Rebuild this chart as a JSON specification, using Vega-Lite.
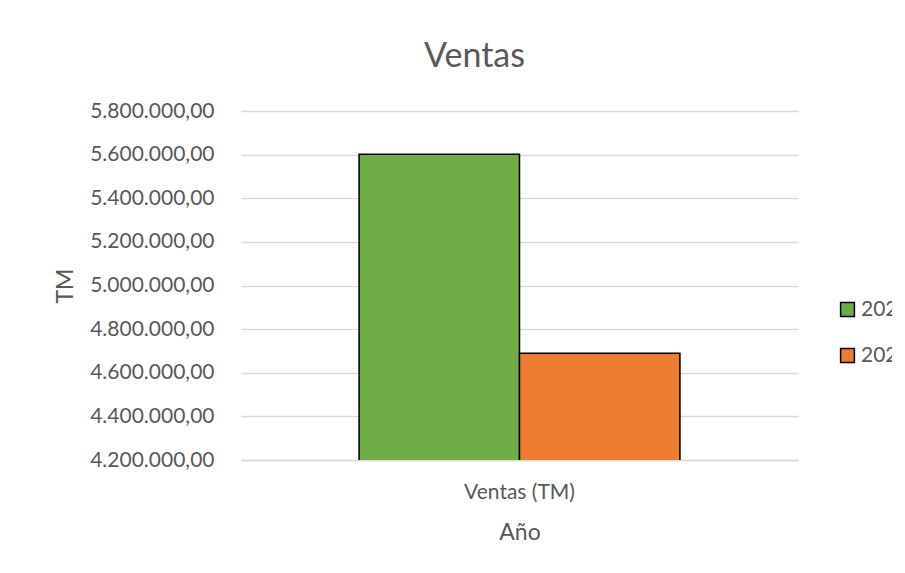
{
  "$schema": "https://vega.github.io/schema/vega-lite/v6.json",
  "autosize": {"type": "none"},
  "padding": {"left": 241, "top": 111, "right": 94, "bottom": 113},
  "width": 557,
  "height": 349,
  "background": "white",
  "data": {
    "values": [
      {"categoria": "Ventas (TM)", "anio": "2022", "ventas": 5602000},
      {"categoria": "Ventas (TM)", "anio": "2023", "ventas": 4689000}
    ]
  },
  "title": {
    "text": "Ventas",
    "anchor": "middle",
    "frame": "group",
    "dx": -45,
    "offset": 26,
    "fontSize": 34,
    "fontWeight": "normal",
    "color": "#595959",
    "font": "Lato"
  },
  "mark": {"type": "bar", "stroke": "black", "strokeWidth": 1.5, "clip": true},
  "encoding": {
    "x": {
      "field": "categoria",
      "type": "nominal",
      "title": "Año",
      "scale": {"paddingInner": 0, "paddingOuter": 0.368},
      "axis": {
        "labelAngle": 0,
        "ticks": false,
        "domainColor": "#D9D9D9",
        "domainWidth": 1.5,
        "labelPadding": 21,
        "titlePadding": 19
      }
    },
    "xOffset": {"field": "anio", "type": "nominal", "scale": {"paddingInner": 0, "paddingOuter": 0}},
    "y": {
      "field": "ventas",
      "type": "quantitative",
      "title": "TM",
      "scale": {"domain": [4200000, 5800000], "zero": false, "nice": false},
      "axis": {
        "format": ",.2f",
        "values": [4200000, 4400000, 4600000, 4800000, 5000000, 5200000, 5400000, 5600000, 5800000],
        "ticks": false,
        "domain": false,
        "labelPadding": 27,
        "titlePadding": 12,
        "gridColor": "#D9D9D9",
        "gridWidth": 1.5
      }
    },
    "color": {
      "field": "anio",
      "type": "nominal",
      "title": null,
      "scale": {"domain": ["2022", "2023"], "range": ["#70AD47", "#ED7D31"]},
      "legend": {
        "orient": "none",
        "legendX": 596,
        "legendY": 188,
        "symbolType": "square",
        "symbolSize": 190,
        "symbolStrokeColor": "black",
        "symbolStrokeWidth": 1.5,
        "symbolOpacity": 1,
        "rowPadding": 24,
        "labelOffset": 3
      }
    }
  },
  "config": {
    "locale": {"number": {"decimal": ",", "thousands": ".", "grouping": [3], "currency": ["", " €"]}},
    "font": "Lato",
    "view": {"stroke": null},
    "axis": {
      "labelFont": "Lato",
      "titleFont": "Lato",
      "labelFontSize": 21,
      "titleFontSize": 23,
      "labelColor": "#595959",
      "titleColor": "#595959",
      "titleFontWeight": "normal"
    },
    "legend": {
      "labelFont": "Lato",
      "labelFontSize": 21,
      "labelColor": "#595959"
    }
  }
}
